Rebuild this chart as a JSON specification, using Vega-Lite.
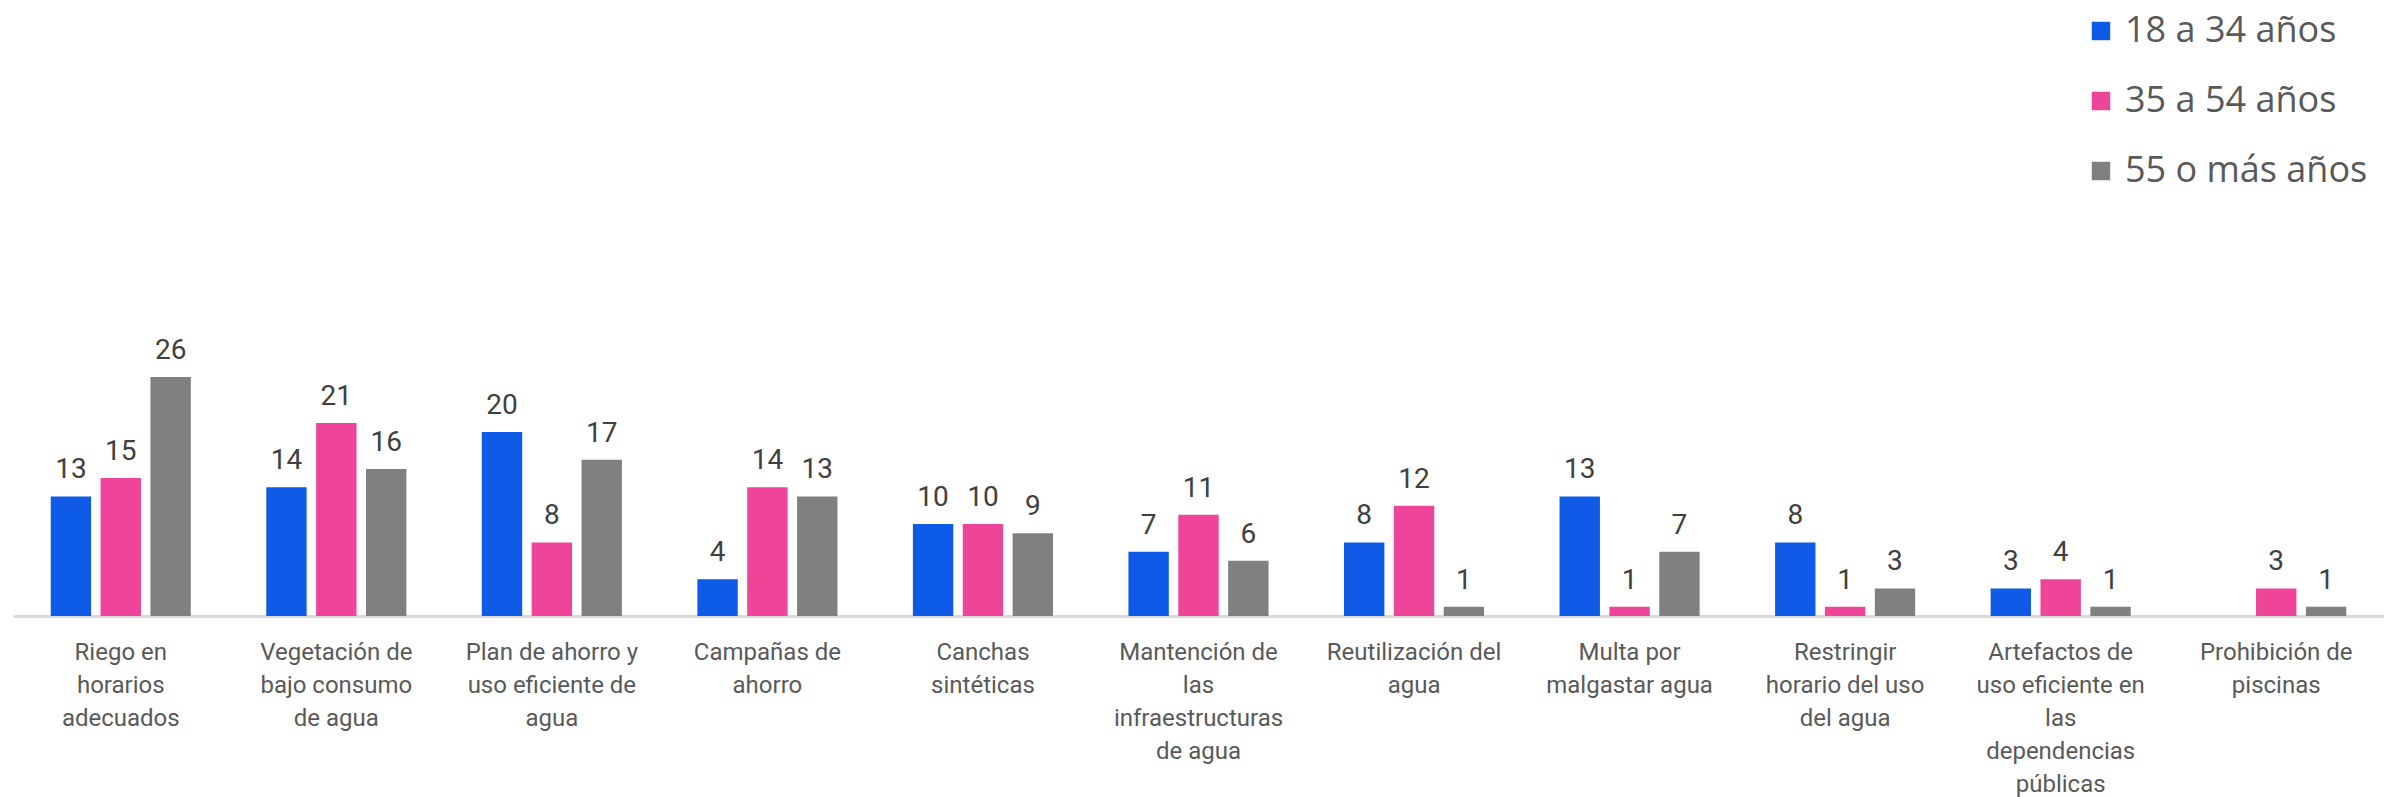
{
  "$schema": "https://vega.github.io/schema/vega-lite/v6.json",
  "autosize": {"type": "none"},
  "padding": {"left": 13, "top": 0, "right": 0, "bottom": 181},
  "width": 2371,
  "height": 616,
  "background": "white",
  "config": {"view": {"stroke": null}, "font": "Roboto"},
  "data": {
    "values": [
      {"cat": "Riego en|horarios|adecuados", "grupo": "18 a 34 años", "valor": 13},
      {"cat": "Riego en|horarios|adecuados", "grupo": "35 a 54 años", "valor": 15},
      {"cat": "Riego en|horarios|adecuados", "grupo": "55 o más años", "valor": 26},
      {"cat": "Vegetación de|bajo consumo|de agua", "grupo": "18 a 34 años", "valor": 14},
      {"cat": "Vegetación de|bajo consumo|de agua", "grupo": "35 a 54 años", "valor": 21},
      {"cat": "Vegetación de|bajo consumo|de agua", "grupo": "55 o más años", "valor": 16},
      {"cat": "Plan de ahorro y|uso eficiente de|agua", "grupo": "18 a 34 años", "valor": 20},
      {"cat": "Plan de ahorro y|uso eficiente de|agua", "grupo": "35 a 54 años", "valor": 8},
      {"cat": "Plan de ahorro y|uso eficiente de|agua", "grupo": "55 o más años", "valor": 17},
      {"cat": "Campañas de|ahorro", "grupo": "18 a 34 años", "valor": 4},
      {"cat": "Campañas de|ahorro", "grupo": "35 a 54 años", "valor": 14},
      {"cat": "Campañas de|ahorro", "grupo": "55 o más años", "valor": 13},
      {"cat": "Canchas|sintéticas", "grupo": "18 a 34 años", "valor": 10},
      {"cat": "Canchas|sintéticas", "grupo": "35 a 54 años", "valor": 10},
      {"cat": "Canchas|sintéticas", "grupo": "55 o más años", "valor": 9},
      {"cat": "Mantención de|las|infraestructuras|de agua", "grupo": "18 a 34 años", "valor": 7},
      {"cat": "Mantención de|las|infraestructuras|de agua", "grupo": "35 a 54 años", "valor": 11},
      {"cat": "Mantención de|las|infraestructuras|de agua", "grupo": "55 o más años", "valor": 6},
      {"cat": "Reutilización del|agua", "grupo": "18 a 34 años", "valor": 8},
      {"cat": "Reutilización del|agua", "grupo": "35 a 54 años", "valor": 12},
      {"cat": "Reutilización del|agua", "grupo": "55 o más años", "valor": 1},
      {"cat": "Multa por|malgastar agua", "grupo": "18 a 34 años", "valor": 13},
      {"cat": "Multa por|malgastar agua", "grupo": "35 a 54 años", "valor": 1},
      {"cat": "Multa por|malgastar agua", "grupo": "55 o más años", "valor": 7},
      {"cat": "Restringir|horario del uso|del agua", "grupo": "18 a 34 años", "valor": 8},
      {"cat": "Restringir|horario del uso|del agua", "grupo": "35 a 54 años", "valor": 1},
      {"cat": "Restringir|horario del uso|del agua", "grupo": "55 o más años", "valor": 3},
      {"cat": "Artefactos de|uso eficiente en|las|dependencias|públicas", "grupo": "18 a 34 años", "valor": 3},
      {"cat": "Artefactos de|uso eficiente en|las|dependencias|públicas", "grupo": "35 a 54 años", "valor": 4},
      {"cat": "Artefactos de|uso eficiente en|las|dependencias|públicas", "grupo": "55 o más años", "valor": 1},
      {"cat": "Prohibición de|piscinas", "grupo": "35 a 54 años", "valor": 3},
      {"cat": "Prohibición de|piscinas", "grupo": "55 o más años", "valor": 1}
    ]
  },
  "encoding": {
    "x": {
      "field": "cat",
      "type": "nominal",
      "sort": null,
      "scale": {"paddingInner": 0.35, "paddingOuter": 0.175},
      "axis": {
        "title": null,
        "labelAngle": 0,
        "labelExpr": "split(datum.label, '|')",
        "labelFontSize": 24,
        "labelLineHeight": 33,
        "labelColor": "#595959",
        "labelPadding": 24,
        "labelBaseline": "top",
        "labelLimit": 300,
        "ticks": false,
        "domainColor": "#d9d9d9",
        "domainWidth": 3
      }
    },
    "xOffset": {
      "field": "grupo",
      "type": "nominal",
      "sort": ["18 a 34 años", "35 a 54 años", "55 o más años"],
      "scale": {"domain": ["18 a 34 años", "35 a 54 años", "55 o más años"], "paddingInner": 0.19}
    },
    "y": {
      "field": "valor",
      "type": "quantitative",
      "scale": {"domain": [0, 67], "nice": false},
      "axis": null
    }
  },
  "layer": [
    {
      "mark": {"type": "bar"},
      "encoding": {
        "color": {
          "field": "grupo",
          "type": "nominal",
          "scale": {
            "domain": ["18 a 34 años", "35 a 54 años", "55 o más años"],
            "range": ["#0f5ae6", "#ee4499", "#808080"]
          },
          "legend": {
            "title": null,
            "orient": "none",
            "legendX": 2070,
            "legendY": 13,
            "symbolType": "square",
            "symbolSize": 340,
            "symbolStrokeWidth": 0,
            "labelFont": "Open Sans",
            "labelFontSize": 36,
            "labelColor": "#595959",
            "labelOffset": 6,
            "rowPadding": 34,
            "labelLimit": 400
          }
        }
      }
    },
    {
      "mark": {"type": "text", "baseline": "bottom", "dy": -12, "fontSize": 28, "color": "#404040"},
      "encoding": {
        "text": {"field": "valor", "type": "quantitative"}
      }
    }
  ]
}
